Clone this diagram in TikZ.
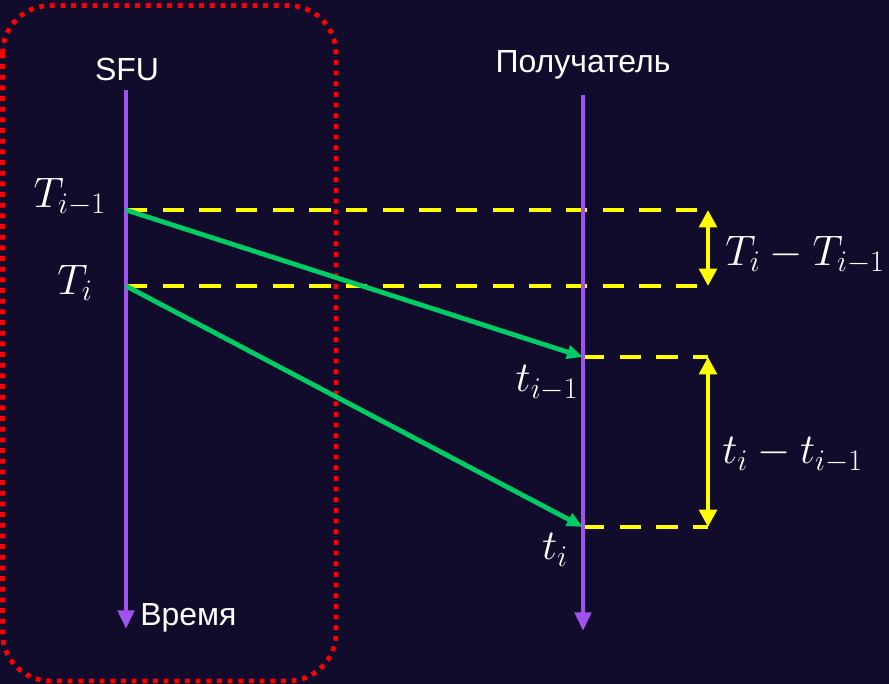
\documentclass[tikz,border=0pt]{standalone}
\usepackage{fix-cm}
\usepackage{fontspec}
\setmainfont{Liberation Sans}
\usetikzlibrary{arrows.meta}
\definecolor{bg}{HTML}{110C2B}
\definecolor{lilac}{HTML}{A052F0}
\definecolor{grn}{HTML}{00CC66}
\definecolor{yel}{HTML}{FFFF00}
\definecolor{redd}{HTML}{FF0000}
\begin{document}
\begin{tikzpicture}[x=0.75pt,y=-0.75pt,
  timeline/.style={draw=lilac,line width=3.6pt,-{Triangle[length=14pt,width=12pt]}},
  msg/.style={draw=grn,line width=3.6pt,-{Triangle[length=12pt,width=10pt]}},
  guide/.style={draw=yel,line width=3.6pt,dash pattern=on 16pt off 11.5pt},
  span/.style={draw=yel,line width=3.6pt,{Triangle[length=13pt,width=13pt]}-{Triangle[length=13pt,width=13pt]}},
  lbl/.style={text=white,font=\fontsize{24}{29}\selectfont,inner sep=0pt},
  mlbl/.style={text=white,font=\fontsize{32}{38}\selectfont,inner sep=0pt}]
\fill[bg] (0,0) rectangle (889,684);
\useasboundingbox (0,0) rectangle (889,684);
\draw[redd,line width=3.6pt,dash pattern=on 3.6pt off 4.4pt,rounded corners=36pt] (2.5,5.5) rectangle (336,681);
% coordinates
\coordinate (s0) at (126,90);
\coordinate (s1) at (126,629);
\coordinate (r0) at (583,95);
\coordinate (r1) at (583,631);
\coordinate (sA) at (126,210);
\coordinate (sB) at (126,286);
\coordinate (rA) at (583,357);
\coordinate (rB) at (583,527);
\coordinate (eA) at (708,210);
\coordinate (eB) at (708,286);
\coordinate (fA) at (708,357);
\coordinate (fB) at (708,527);
% guides
\draw[guide] (sA) -- (eA);
\draw[guide] (sB) -- (eB);
\draw[guide] (rA) -- (fA);
\draw[guide] (rB) -- (fB);
% timelines
\draw[timeline] (s0) -- (s1);
\draw[timeline] (r0) -- (r1);
% messages
\draw[msg] (sA) -- (rA);
\draw[msg] (sB) -- (rB);
% spans
\draw[span] (eA) -- (eB);
\draw[span] (fA) -- (fB);
% labels
\node[lbl] (sfu) at (127,69) {SFU};
\node[lbl] (rcv) at (583,65) {Получатель};
\node[lbl,anchor=west] (time) at (140,618) {Время};
\node[mlbl,anchor=east] (TA) at (106,197) {$T_{i-1}$};
\node[mlbl] (TB) at (75,283) {$T_i$};
\node[mlbl] (tA) at (547,383) {$t_{i-1}$};
\node[mlbl] (tB) at (555,550) {$t_i$};
\node[mlbl,anchor=west] (dT) at (725,255) {$T_i - T_{i-1}$};
\node[mlbl,anchor=west] (dt) at (722,455) {$t_i - t_{i-1}$};
\end{tikzpicture}
\end{document}
